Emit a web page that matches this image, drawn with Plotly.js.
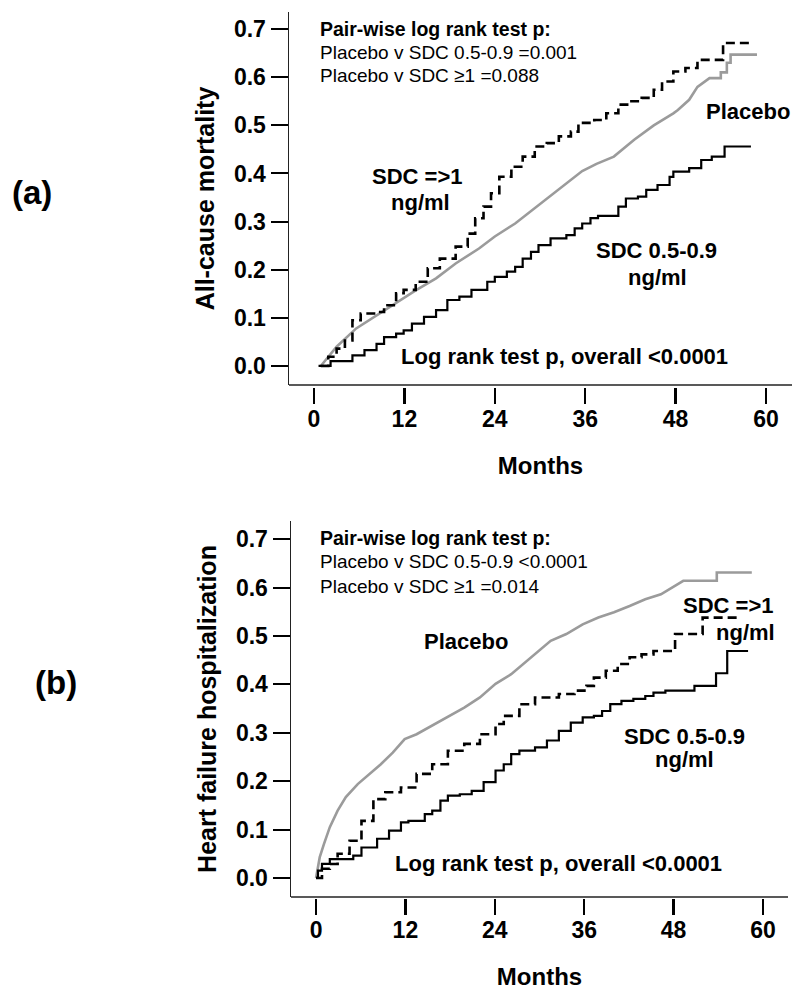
<!DOCTYPE html>
<html>
<head>
<meta charset="utf-8">
<script src="https://cdn.plot.ly/plotly-3.0.1.min.js"></script>
<style>
  html, body { margin: 0; padding: 0; background: #fff; }
  #chart { width: 800px; height: 995px; }
</style>
</head>
<body>
<div id="chart"></div>
<script>
// Kaplan-Meier style cumulative event curves, two stacked panels.
// Values (months, cumulative proportion).

const MONTH_TICKS = [0, 12, 24, 36, 48, 60];
const RATE_TICKS = [0, 0.1, 0.2, 0.3, 0.4, 0.5, 0.6, 0.7];

// (a) all-cause mortality
const placeboA_x = [0.9, 3, 5.6, 8.3, 11.4, 13.5, 16.2, 18.8, 21.9, 24, 26.7, 29.3, 31.9, 34.6, 35.6, 37.5, 39.8, 42.5, 45.1, 47.7, 48.3, 49.8, 50.9, 52.5, 54.0, 54.0, 54.8, 54.8, 55.3, 55.3, 58.8];
const placeboA_y = [0, 0.04, 0.078, 0.105, 0.137, 0.157, 0.182, 0.213, 0.244, 0.269, 0.296, 0.328, 0.359, 0.393, 0.405, 0.42, 0.435, 0.47, 0.5, 0.525, 0.532, 0.553, 0.58, 0.598, 0.598, 0.61, 0.61, 0.63, 0.63, 0.647, 0.647];

const lowA_x = [0.6, 2.2, 5.1, 6.7, 8.3, 9.3, 10.9, 11.9, 13.0, 14.6, 16.2, 17.7, 19.3, 20.9, 23.0, 24.0, 25.6, 26.7, 27.7, 28.8, 29.8, 31.4, 33.5, 34.6, 35.6, 36.7, 37.7, 40.4, 41.4, 43.0, 44.1, 45.6, 47.2, 47.7, 49.8, 51.4, 52.8, 54.5, 58.0];
const lowA_y = [0, 0.01, 0.022, 0.033, 0.046, 0.06, 0.067, 0.074, 0.088, 0.102, 0.116, 0.137, 0.144, 0.158, 0.175, 0.185, 0.196, 0.206, 0.223, 0.237, 0.251, 0.265, 0.272, 0.286, 0.296, 0.307, 0.312, 0.331, 0.348, 0.352, 0.366, 0.376, 0.393, 0.404, 0.411, 0.428, 0.435, 0.456, 0.456];

const highA_x = [0.9, 1.9, 3.0, 4.1, 5.1, 6.2, 8.3, 9.3, 10.9, 11.9, 13.5, 15.1, 16.7, 18.8, 20.4, 21.4, 22.5, 23.5, 24.6, 26.2, 27.7, 29.3, 30.9, 32.5, 34.1, 35.1, 37.2, 38.8, 40.4, 41.9, 43.5, 45.1, 46.2, 47.7, 49.3, 50.9, 54.3, 58.0];
const highA_y = [0, 0.019, 0.036, 0.053, 0.095, 0.109, 0.112, 0.126, 0.151, 0.158, 0.175, 0.203, 0.223, 0.248, 0.275, 0.307, 0.331, 0.359, 0.393, 0.414, 0.435, 0.456, 0.463, 0.477, 0.487, 0.505, 0.511, 0.525, 0.543, 0.55, 0.557, 0.574, 0.591, 0.612, 0.619, 0.636, 0.671, 0.671];

// (b) heart failure hospitalization
const placeboB_x = [0, 0.5, 1.06, 1.85, 2.9, 4, 5.6, 7.2, 8.7, 10.3, 11.9, 13.5, 15.6, 17.7, 19.9, 22, 24.1, 26.2, 27.8, 29.4, 31.5, 33.6, 35.8, 37.9, 40, 42.1, 44.2, 46.3, 47.9, 49.3, 53.8, 53.8, 58.5];
const placeboB_y = [0, 0.043, 0.07, 0.105, 0.139, 0.167, 0.194, 0.215, 0.235, 0.259, 0.287, 0.297, 0.315, 0.332, 0.352, 0.373, 0.401, 0.421, 0.442, 0.462, 0.49, 0.504, 0.524, 0.538, 0.549, 0.562, 0.576, 0.586, 0.6, 0.614, 0.614, 0.631, 0.631];

const lowB_x = [0, 0.26, 0.8, 1.85, 5.0, 6.1, 8.2, 9.8, 11.4, 12.4, 14.6, 15.6, 16.7, 17.7, 19.3, 20.9, 22.5, 24.1, 25.2, 26.2, 27.3, 29.4, 31.0, 32.6, 34.2, 35.8, 37.3, 38.4, 39.5, 41.0, 42.6, 44.2, 45.3, 46.9, 50.8, 53.7, 55.2, 58.0];
const lowB_y = [0, 0.015, 0.029, 0.039, 0.046, 0.063, 0.081, 0.098, 0.115, 0.118, 0.132, 0.139, 0.16, 0.17, 0.173, 0.18, 0.198, 0.222, 0.235, 0.256, 0.263, 0.27, 0.284, 0.304, 0.321, 0.332, 0.335, 0.345, 0.359, 0.366, 0.37, 0.376, 0.383, 0.387, 0.397, 0.423, 0.469, 0.469];

const highB_x = [0, 0.8, 1.85, 2.9, 4.5, 6.1, 7.7, 9.3, 11.4, 13.5, 15.6, 17.7, 19.9, 22, 24.1, 25.2, 27.3, 29.4, 32.6, 34.7, 36.3, 37.3, 38.9, 40.5, 42.1, 43.7, 45.3, 48.2, 51.9, 56.7];
const highB_y = [0, 0.019, 0.029, 0.05, 0.077, 0.118, 0.163, 0.177, 0.187, 0.215, 0.235, 0.263, 0.277, 0.297, 0.318, 0.335, 0.359, 0.373, 0.38, 0.387, 0.397, 0.414, 0.428, 0.442, 0.456, 0.462, 0.469, 0.504, 0.538, 0.538];

const FONT = "Liberation Sans, Arial, Helvetica, sans-serif";
const GREY = "#9b9b9b";

function placeboTrace(x, y, xa, ya) {
  return { x, y, xaxis: xa, yaxis: ya, type: "scatter", mode: "lines",
    line: { color: GREY, width: 2.6, shape: "linear" }, hoverinfo: "skip" };
}
function lowTrace(x, y, xa, ya) {
  return { x, y, xaxis: xa, yaxis: ya, type: "scatter", mode: "lines",
    line: { color: "#000", width: 2.2, shape: "hv" }, hoverinfo: "skip" };
}
function highTrace(x, y, xa, ya) {
  return { x, y, xaxis: xa, yaxis: ya, type: "scatter", mode: "lines",
    line: { color: "#000", width: 2.6, shape: "hv", dash: "9px,5px" }, hoverinfo: "skip" };
}

const traces = [
  placeboTrace(placeboA_x, placeboA_y, "x", "y"),
  lowTrace(lowA_x, lowA_y, "x", "y"),
  highTrace(highA_x, highA_y, "x", "y"),
  placeboTrace(placeboB_x, placeboB_y, "x2", "y2"),
  lowTrace(lowB_x, lowB_y, "x2", "y2"),
  highTrace(highB_x, highB_y, "x2", "y2"),
];

function monthAxis(domain, range, pos) {
  return {
    domain, range, anchor: "free", position: pos,
    showline: false, showgrid: false, zeroline: false,
    ticks: "outside", ticklen: 16, tickwidth: 2.5, tickcolor: "#000",
    tickvals: MONTH_TICKS, ticklabelstandoff: -5,
    tickfont: { family: FONT, size: 23, weight: "bold", color: "#000" },
    title: { text: "Months", standoff: 26, font: { family: FONT, size: 24, weight: "bold", color: "#000" } },
  };
}
function rateAxis(domain, range, anchor, label) {
  return {
    domain, range, anchor,
    showline: true, linewidth: 1.5, linecolor: "#222",
    showgrid: false, zeroline: false,
    ticks: "outside", ticklen: 17, tickwidth: 2, tickcolor: "#000",
    tickvals: RATE_TICKS, tickformat: ".1f",
    tickfont: { family: FONT, size: 23, weight: "bold", color: "#000" },
    title: { text: label, standoff: 12, font: { family: FONT, size: 25, weight: "bold", color: "#000" } },
  };
}

function note(text, x, y, xa, ya, size, bold, anchor) {
  return { text, x, y, xref: xa, yref: ya, showarrow: false,
    xanchor: anchor || "center", yanchor: "middle",
    font: { family: FONT, size, weight: bold ? "bold" : "normal", color: "#000" } };
}

const annotations = [
  note("Pair-wise log rank test p:", 0.53, 0.700, "x", "y", 19.5, true, "left"),
  note("Placebo v SDC 0.5-0.9 =0.001", 0.53, 0.652, "x", "y", 19, false, "left"),
  note("Placebo v SDC ≥1 =0.088", 0.53, 0.6045, "x", "y", 19, false, "left"),
  note("Placebo", 57.6, 0.528, "x", "y", 22, true),
  note("SDC =>1", 13.8, 0.393, "x", "y", 22, true),
  note("ng/ml", 14.1, 0.339, "x", "y", 22, true),
  note("SDC 0.5-0.9", 45.5, 0.239, "x", "y", 22, true),
  note("ng/ml", 45.6, 0.183, "x", "y", 22, true),
  note("Log rank test p, overall <0.0001", 33.3, 0.019, "x", "y", 22, true),

  note("Pair-wise log rank test p:", 0.27, 0.702, "x2", "y2", 19.5, true, "left"),
  note("Placebo v SDC 0.5-0.9 <0.0001", 0.27, 0.653, "x2", "y2", 19, false, "left"),
  note("Placebo v SDC ≥1 =0.014", 0.27, 0.603, "x2", "y2", 19, false, "left"),
  note("Placebo", 20.1, 0.488, "x2", "y2", 22, true),
  note("SDC =>1", 55.4, 0.562, "x2", "y2", 22, true),
  note("ng/ml", 57.7, 0.508, "x2", "y2", 22, true),
  note("SDC 0.5-0.9", 49.4, 0.293, "x2", "y2", 22, true),
  note("ng/ml", 49.5, 0.244, "x2", "y2", 22, true),
  note("Log rank test p, overall <0.0001", 32.6, 0.029, "x2", "y2", 22, true),

  note("(a)", 0.04, 0.807, "paper", "paper", 33, true),
  note("(b)", 0.07, 0.3136, "paper", "paper", 33, true),
];

// bottom axis lines are drawn separately: the tick row sits a little below them
const shapes = [
  { type: "line", xref: "x domain", yref: "y domain", x0: 0, x1: 1, y0: 0, y1: 0, line: { color: "#222", width: 1.5 } },
  { type: "line", xref: "x2 domain", yref: "y2 domain", x0: 0, x1: 1, y0: 0, y1: 0, line: { color: "#222", width: 1.5 } },
];

const layout = {
  width: 800, height: 995,
  margin: { l: 0, r: 0, t: 0, b: 0 },
  paper_bgcolor: "#fff", plot_bgcolor: "#fff",
  showlegend: false,
  font: { family: FONT, color: "#000" },
  xaxis: monthAxis([0.36125, 0.99], [-3.32, 63.45], 0.6111),
  yaxis: rateAxis([0.6131, 0.9879], [-0.0395, 0.7354], "x", "All-cause mortality"),
  xaxis2: monthAxis([0.36375, 0.985], [-3.36, 63.36], 0.0975),
  yaxis2: rateAxis([0.0985, 0.4764], [-0.0393, 0.7376], "x2", "Heart failure hospitalization"),
  annotations, shapes,
};

Plotly.newPlot("chart", traces, layout, { displayModeBar: false, staticPlot: true });
</script>
</body>
</html>
